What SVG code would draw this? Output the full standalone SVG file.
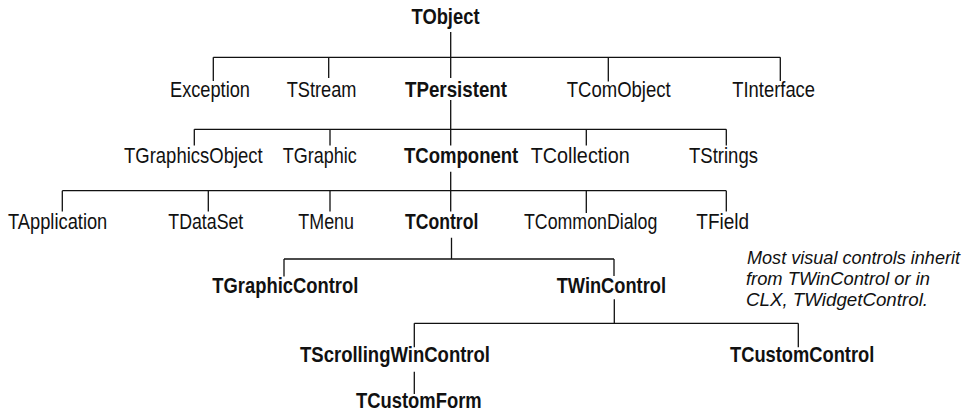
<svg xmlns="http://www.w3.org/2000/svg" width="968" height="415" viewBox="0 0 968 415">
<style>
  text { font-family: "Liberation Sans", Arial, Helvetica, sans-serif; fill: #111; }
  .r { font-size: 22px; }
  .b { font-size: 22px; font-weight: bold; }
  .note { font-size: 18.6px; font-style: italic; }
  .c { stroke: #111; stroke-width: 1.3; fill: none; }
</style>
<rect width="968" height="415" fill="#fff"/>
<g id="connectors" class="c">
  <path d="M450.7 32 V57.3 M213.3 57.3 H780.3 M213.3 57.3 V81 M328.7 57.3 V78 M450.7 57.3 V78 M608.3 57.3 V81.5 M780.3 57.3 V81"/>
  <path d="M450.7 100 V129.3 M194.3 129.3 H726.3 M194.3 129.3 V145.5 M330 129.3 V145.5 M450.7 129.3 V145.5 M586.3 129.3 V145.5 M726.3 129.3 V145.5"/>
  <path d="M450.7 171.7 V190.7 M62.3 190.7 H726.3 M62.3 190.7 V211.5 M208.3 190.7 V211.5 M330 190.7 V211.5 M450.7 190.7 V211.5 M586.3 190.7 V213 M726.3 190.7 V211.5"/>
  <path d="M451.5 237.7 V259 M284 259 H614 M284 259 V276.5 M614 259 V276"/>
  <path d="M614.3 299.3 V323.3 M414.3 323.3 H798.3 M414.3 323.3 V347.3 M798.3 323.3 V347.3"/>
  <path d="M414.3 371.7 V394"/>
</g>
<g id="TObject"><text class="b" x="411.5" y="24" textLength="68" lengthAdjust="spacingAndGlyphs">TObject</text></g>
<g id="Exception"><text class="r" x="170" y="96.5" textLength="80" lengthAdjust="spacingAndGlyphs">Exception</text></g>
<g id="TStream"><text class="r" x="286.7" y="96.5" textLength="69.8" lengthAdjust="spacingAndGlyphs">TStream</text></g>
<g id="TPersistent"><text class="b" x="405" y="96.5" textLength="102" lengthAdjust="spacingAndGlyphs">TPersistent</text></g>
<g id="TComObject"><text class="r" x="566.7" y="96.5" textLength="104" lengthAdjust="spacingAndGlyphs">TComObject</text></g>
<g id="TInterface"><text class="r" x="732.3" y="96.5" textLength="82.7" lengthAdjust="spacingAndGlyphs">TInterface</text></g>
<g id="TGraphicsObject"><text class="r" x="124" y="162.7" textLength="138.7" lengthAdjust="spacingAndGlyphs">TGraphicsObject</text></g>
<g id="TGraphic"><text class="r" x="282.7" y="162.7" textLength="74" lengthAdjust="spacingAndGlyphs">TGraphic</text></g>
<g id="TComponent"><text class="b" x="404" y="162.7" textLength="114.3" lengthAdjust="spacingAndGlyphs">TComponent</text></g>
<g id="TCollection"><text class="r" x="530.7" y="162.7" textLength="99" lengthAdjust="spacingAndGlyphs">TCollection</text></g>
<g id="TStrings"><text class="r" x="689" y="162.7" textLength="69" lengthAdjust="spacingAndGlyphs">TStrings</text></g>
<g id="TApplication"><text class="r" x="8" y="229.3" textLength="99.3" lengthAdjust="spacingAndGlyphs">TApplication</text></g>
<g id="TDataSet"><text class="r" x="168.3" y="229.3" textLength="75" lengthAdjust="spacingAndGlyphs">TDataSet</text></g>
<g id="TMenu"><text class="r" x="298.3" y="229.3" textLength="55.7" lengthAdjust="spacingAndGlyphs">TMenu</text></g>
<g id="TControl"><text class="b" x="405" y="229.3" textLength="73.3" lengthAdjust="spacingAndGlyphs">TControl</text></g>
<g id="TCommonDialog"><text class="r" x="524" y="229.3" textLength="133.3" lengthAdjust="spacingAndGlyphs">TCommonDialog</text></g>
<g id="TField"><text class="r" x="696.3" y="229.3" textLength="52.7" lengthAdjust="spacingAndGlyphs">TField</text></g>
<g id="TGraphicControl"><text class="b" x="212.3" y="292.7" textLength="146" lengthAdjust="spacingAndGlyphs">TGraphicControl</text></g>
<g id="TWinControl"><text class="b" x="556.7" y="292.7" textLength="109.3" lengthAdjust="spacingAndGlyphs">TWinControl</text></g>
<g id="TScrollingWinControl"><text class="b" x="300" y="361.7" textLength="190" lengthAdjust="spacingAndGlyphs">TScrollingWinControl</text></g>
<g id="TCustomControl"><text class="b" x="730" y="361.7" textLength="144.3" lengthAdjust="spacingAndGlyphs">TCustomControl</text></g>
<g id="TCustomForm"><text class="b" x="356" y="408.3" textLength="125.7" lengthAdjust="spacingAndGlyphs">TCustomForm</text></g>
<g id="note">
  <text class="note" x="747" y="264" textLength="213" lengthAdjust="spacingAndGlyphs">Most visual controls inherit</text>
  <text class="note" x="746" y="285" textLength="184" lengthAdjust="spacingAndGlyphs">from TWinControl or in</text>
  <text class="note" x="746" y="306" textLength="182" lengthAdjust="spacingAndGlyphs">CLX, TWidgetControl.</text>
</g>
</svg>
